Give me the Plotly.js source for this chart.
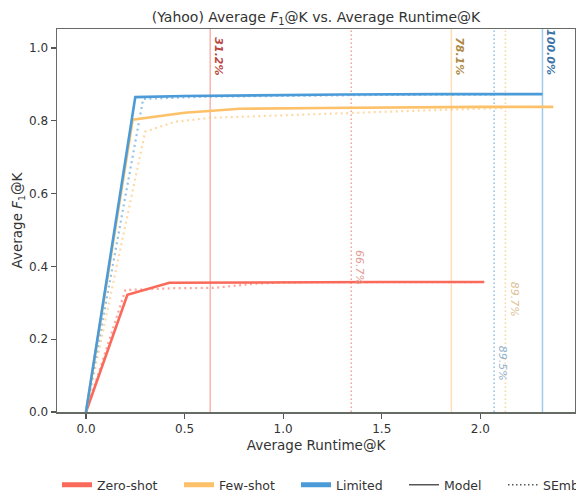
<!DOCTYPE html>
<html>
<head>
<meta charset="utf-8">
<script src="https://cdn.plot.ly/plotly-3.0.1.min.js"></script>
<style>html,body{margin:0;padding:0;background:#fff;overflow:hidden;}#chart{width:576px;height:493px;}</style>
</head>
<body>
<div id="chart"></div>
<script>
// Series data (x = Average Runtime@K, y = Average F1@K)
const zeroModelX = [0, 0.21, 0.423, 1.0, 1.5, 2.02];
const zeroModelY = [0, 0.322, 0.355, 0.357, 0.357, 0.357];
const zeroSembX = [0, 0.20, 0.45, 0.65, 0.85, 1.0, 1.345, 2.0];
const zeroSembY = [0, 0.335, 0.340, 0.341, 0.352, 0.356, 0.357, 0.357];

const fewModelX = [0, 0.237, 0.50, 0.78, 1.2, 1.6, 2.0, 2.37];
const fewModelY = [0, 0.803, 0.822, 0.833, 0.835, 0.837, 0.838, 0.838];
const fewSembX = [0, 0.30, 0.45, 0.63, 1.0, 1.34, 1.7, 2.0, 2.127];
const fewSembY = [0, 0.770, 0.797, 0.808, 0.815, 0.822, 0.828, 0.833, 0.835];

const limModelX = [0, 0.25, 0.5, 0.8, 1.3, 1.8, 2.315];
const limModelY = [0, 0.865, 0.868, 0.870, 0.872, 0.873, 0.873];
const limSembX = [0, 0.29, 0.6, 1.0, 1.5, 2.07];
const limSembY = [0, 0.860, 0.866, 0.869, 0.871, 0.872];

// Reference vertical markers
const markerX = [0.63, 1.345, 1.853, 2.07, 2.127, 2.315];
const markerLabels = ["31.2%", "66.7%", "78.1%", "89.5%", "89.7%", "100.0%"];
const markerLabelY = [0.92, 0.343, 0.92, 0.08, 0.255, 0.92];
const markerKind = ["Model", "SEmb", "Model", "SEmb", "SEmb", "Model"];
const markerGroup = ["Zero-shot", "Zero-shot", "Few-shot", "Limited", "Few-shot", "Limited"];

const groupNames = ["Zero-shot", "Few-shot", "Limited"];
const legendNames = ["Zero-shot", "Few-shot", "Limited", "Model", "SEmb"];
const xTicks = [0, 0.5, 1.0, 1.5, 2.0];
const yTicks = [0, 0.2, 0.4, 0.6, 0.8, 1.0];

const col = {"Zero-shot": "#fa6a5a", "Few-shot": "#fcc169", "Limited": "#4b9bd8"};
const vcolSolid = {"Zero-shot": "rgba(246,150,140,0.7)", "Few-shot": "rgba(252,215,165,0.8)", "Limited": "rgba(130,185,230,0.75)"};
const vcolDot = {"Zero-shot": "rgba(240,140,130,0.8)", "Few-shot": "rgba(252,205,150,0.9)", "Limited": "rgba(130,185,230,0.9)"};
const lblSolid = {"Zero-shot": "#b9463d", "Few-shot": "#ad8946", "Limited": "#3a73a6"};
const lblDot = {"Zero-shot": "#e29b93", "Few-shot": "#dcc195", "Limited": "#92b3d0"};

const FONT = "DejaVu Sans, sans-serif";

const traces = [];
function curve(x, y, g, dotted) {
  traces.push({
    x: x, y: y, type: "scatter", mode: "lines", showlegend: false, hoverinfo: "skip",
    line: {color: col[g], width: dotted ? 2.2 : 2.6, dash: dotted ? "2px,3.5px" : "solid"},
    opacity: dotted ? 0.6 : 1
  });
}
curve(zeroSembX, zeroSembY, "Zero-shot", true);
curve(fewSembX, fewSembY, "Few-shot", true);
curve(limSembX, limSembY, "Limited", true);
curve(zeroModelX, zeroModelY, "Zero-shot", false);
curve(fewModelX, fewModelY, "Few-shot", false);
curve(limModelX, limModelY, "Limited", false);

// legend entries, each in its own legend box so positions can be matched
const legendIds = ["legend", "legend2", "legend3", "legend4", "legend5"];
const legendTextX = [96, 218, 335, 443, 542];
legendNames.forEach((nm, i) => {
  let line;
  if (i < 3) line = {color: col[nm], width: 5};
  else if (nm === "Model") line = {color: "#555", width: 1.5};
  else line = {color: "#555", width: 1.5, dash: "1.5px,2.5px"};
  traces.push({x: [null], y: [null], type: "scatter", mode: "lines", name: nm, line: line, legend: legendIds[i]});
});

const shapes = [];
const annotations = [];
markerX.forEach((mx, i) => {
  const g = markerGroup[i];
  const solid = markerKind[i] === "Model";
  shapes.push({
    type: "line", xref: "x", yref: "paper", x0: mx, x1: mx, y0: 0, y1: 1,
    line: {color: solid ? vcolSolid[g] : vcolDot[g], width: 1.5, dash: solid ? "solid" : "1.5px,2.5px"},
    layer: "below"
  });
  annotations.push({
    x: mx, y: markerLabelY[i], xref: "x", yref: "y", xanchor: "left", yanchor: "bottom",
    text: solid ? "<b><i>" + markerLabels[i] + "</i></b>" : "<i>" + markerLabels[i] + "</i>",
    textangle: 90, showarrow: false,
    font: {family: FONT, size: 11, color: solid ? lblSolid[g] : lblDot[g]}
  });
});

const axisCommon = {
  showgrid: false, zeroline: false, showline: true, mirror: true,
  linecolor: "#666b66", linewidth: 1.5, ticks: "outside", ticklen: 5, tickwidth: 1.3,
  tickcolor: "#555", tickfont: {family: FONT, size: 12, color: "#333"}
};

const layout = {
  width: 576, height: 493,
  margin: {l: 57, r: 1, t: 29, b: 81},
  paper_bgcolor: "#fff", plot_bgcolor: "#fff",
  font: {family: FONT, color: "#333"},
  title: {text: "(Yahoo) Average <i>F</i><sub>1</sub>@K vs. Average Runtime@K",
          font: {family: FONT, size: 14, color: "#333"}, x: 0.5, xref: "paper", y: 0.966, yanchor: "middle"},
  xaxis: Object.assign({}, axisCommon, {
    range: [-0.147, 2.48], tickvals: xTicks, ticktext: xTicks.map(v => v.toFixed(1)),
    title: {text: "Average Runtime@K", font: {family: FONT, size: 13.5, color: "#333"}, standoff: 5}
  }),
  yaxis: Object.assign({}, axisCommon, {
    range: [0, 1.052], tickvals: yTicks, ticktext: yTicks.map(v => v.toFixed(1)),
    title: {text: "Average <i>F</i><sub>1</sub>@K", font: {family: FONT, size: 13.5, color: "#333"}, standoff: 3}
  }),
  showlegend: true,
  shapes: shapes,
  annotations: annotations
};
legendIds.forEach((id, i) => {
  layout[id] = {
    orientation: "h", xref: "container", yref: "container",
    x: (legendTextX[i] - 39) / 576, y: 0.016, xanchor: "left", yanchor: "middle",
    font: {family: FONT, size: 12.5, color: "#333"}, itemwidth: 30,
    bgcolor: "rgba(0,0,0,0)", borderwidth: 0
  };
});

Plotly.newPlot("chart", traces, layout, {displayModeBar: false, staticPlot: true});
</script>
</body>
</html>
